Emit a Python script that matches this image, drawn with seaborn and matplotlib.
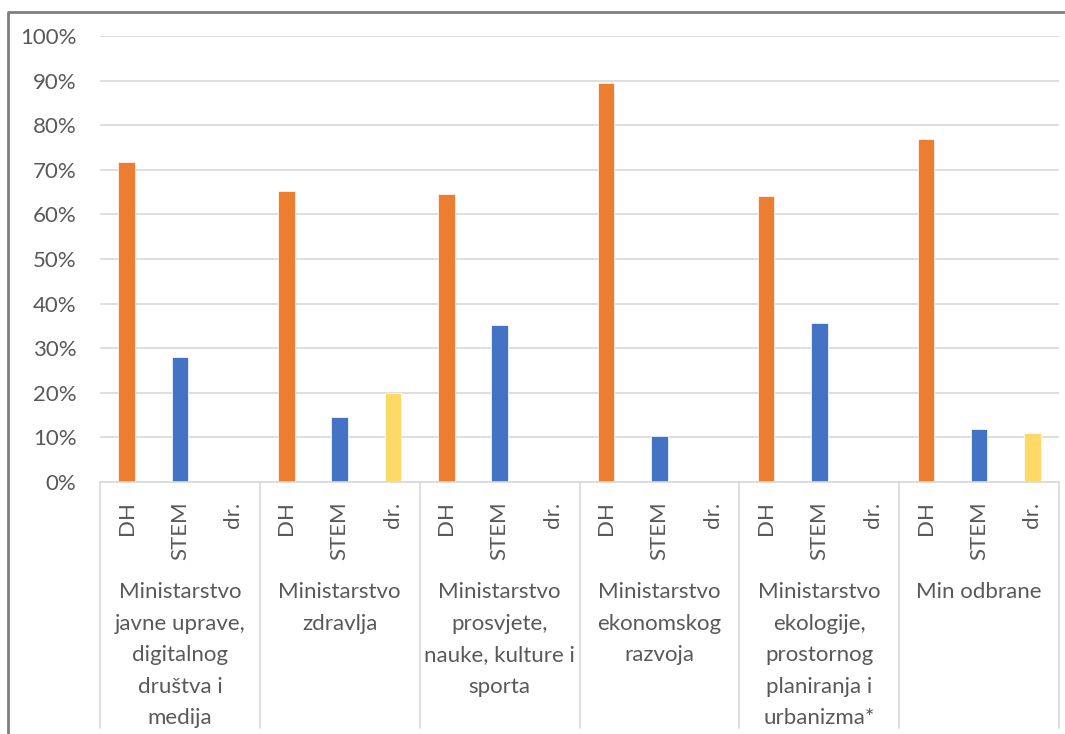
import matplotlib
matplotlib.use("Agg")
from matplotlib import pyplot as plt
from matplotlib.lines import Line2D
import pandas as pd
import seaborn as sns

ministries = [
    "Ministarstvo\njavne uprave,\ndigitalnog\ndruštva i\nmedija",
    "Ministarstvo\nzdravlja",
    "Ministarstvo\nprosvjete,\nnauke, kulture i\nsporta",
    "Ministarstvo\nekonomskog\nrazvoja",
    "Ministarstvo\nekologije,\nprostornog\nplaniranja i\nurbanizma*",
    "Min odbrane",
]
types = ["DH", "STEM", "dr."]
dh = [71.8, 65.2, 64.6, 89.4, 64.2, 77.0]
stem = [28.0, 14.5, 35.2, 10.4, 35.6, 11.9]
other = [0.0, 19.9, 0.0, 0.0, 0.0, 10.9]

colors = {"DH": "#ED7D31", "STEM": "#4472C4", "dr.": "#FFD966"}
text_col = "#595959"
grid_col = "#D9D9D9"

# one slot per (ministry, type) pair
rows = []
for i, m in enumerate(ministries):
    for t, vals in zip(types, [dh, stem, other]):
        rows.append({"slot": f"{i}-{t}", "type": t, "share": vals[i] / 100})
df = pd.DataFrame(rows)

sns.set_style("white")
plt.rcParams["font.family"] = ["Lato", "DejaVu Sans"]

W, H = 1065, 734
fig = plt.figure(figsize=(W / 100, H / 100), dpi=100)
ax = fig.add_axes([100 / W, 1 - 482 / H, 959 / W, 446 / H])

sns.barplot(data=df, x="slot", y="share", hue="type", palette=colors,
            saturation=1, dodge=False, width=0.31, ax=ax, legend=False,
            edgecolor="white", linewidth=0.5)

ax.set_xlim(-0.5, len(df) - 0.5)
ax.set_ylim(0, 1)
yt = [i / 10 for i in range(11)]
ax.set_yticks(yt)
ax.set_yticklabels([f"{int(round(v * 100))}%" for v in yt])
ax.set_xticks(range(len(df)))
ax.set_xticklabels(types * len(ministries), rotation=90)
ax.tick_params(axis="y", length=0, pad=17, labelsize=16, labelcolor=text_col)
ax.tick_params(axis="x", length=0, pad=14, labelsize=16, labelcolor=text_col)
ax.set_xlabel("")
ax.set_ylabel("")

ax.yaxis.grid(True, color=grid_col, lw=1.2)
ax.set_axisbelow(True)
for s in ["top", "right", "left"]:
    ax.spines[s].set_visible(False)
ax.spines["bottom"].set_color(grid_col)
ax.spines["bottom"].set_linewidth(1.2)

# group separators and group labels below the axis
xt = ax.get_xaxis_transform()
bottom = (482 - 728) / 446
for k in range(len(ministries) + 1):
    x = k * 3 - 0.5
    ax.plot([x, x], [0, bottom], transform=xt, color=grid_col, lw=1.2,
            clip_on=False)
for i, m in enumerate(ministries):
    ax.text(i * 3 + 1, (482 - 582) / 446, m, transform=xt, ha="center",
            va="top", fontsize=16, color=text_col, linespacing=1.72)

# chart frame
fig.add_artist(Line2D([8 / W, 8 / W, 1], [0, 1 - 12 / H, 1 - 12 / H],
                      transform=fig.transFigure, color="#7F7F7F", lw=2))

fig.savefig("out.png", dpi=100, facecolor="white")
